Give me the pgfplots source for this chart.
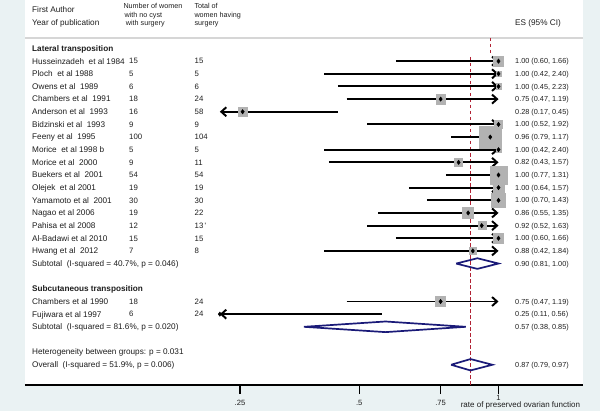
\documentclass[border=0pt]{standalone}
\usepackage{pgfplots}
\pgfplotsset{compat=1.18}
\usepackage{pgfplotstable}
\usepackage{fontspec}
\setmainfont{Liberation Sans}
\usetikzlibrary{arrows.meta}
\definecolor{bgblue}{RGB}{234,242,243}
\definecolor{boxgray}{RGB}{178,178,178}
\definecolor{navy}{RGB}{26,26,120}
\definecolor{refred}{RGB}{178,34,52}
\definecolor{txt}{RGB}{30,30,30}
\definecolor{hdrline}{RGB}{214,214,214}
\newcommand\fA{\fontsize{8.2}{9.8}\selectfont}
\newcommand\fN{\fontsize{7.8}{9.4}\selectfont}
\newcommand\fH{\fontsize{7.2}{8.6}\selectfont}
\newcommand\fE{\fontsize{7.3}{8.7}\selectfont}
\newcommand\fT{\fontsize{7.6}{9}\selectfont}

% boxes: ES, row (negative), half side of box (pt)
\pgfplotstableread{
es row hs
1.00 -1 5
1.00 -2 2.6
1.00 -3 2.8
0.75 -4 4.8
0.28 -5 4.5
1.00 -6 4
0.96 -7 11
1.00 -8 2.6
0.82 -9 4
1.00 -10 8.7
1.00 -11 5.5
1.00 -12 7
0.86 -13 5.5
0.92 -14 4
1.00 -15 5
0.88 -16 3.5
0.75 -20 5
}\boxtab

% point estimates
\pgfplotstableread{
es row
1.00 -1
1.00 -2
1.00 -3
0.75 -4
0.28 -5
1.00 -6
0.96 -7
1.00 -8
0.82 -9
1.00 -10
1.00 -11
1.00 -12
0.86 -13
0.92 -14
1.00 -15
0.88 -16
0.75 -20
0.25 -21
}\pointtab

\newcommand\SR[5]{%
 \node[anchor=base west,font=\fA] at (32,{48.5+12.65*#1+2.9}) {#2};
 \node[anchor=base west,font=\fN] at (129,{48.5+12.65*#1+2.8}) {#3};
 \node[anchor=base west,font=\fN] at (194.5,{48.5+12.65*#1+2.8}) {#4};
 \node[anchor=base west,font=\fE] at (515,{48.5+12.65*#1+2.6}) {#5};}

\begin{document}
\begin{tikzpicture}
\begin{scope}[x=1pt,y=-1pt]
\fill[bgblue] (0,0) rectangle (600,411);
\fill[white] (25,0) rectangle (583,385);
\draw[hdrline, line width=2.6pt] (25,38) -- (583,38);
\end{scope}
\begin{axis}[
  at={(25pt,-385pt)}, anchor=south west,
  scale only axis, width=558pt, height=385pt,
  xmode=log, xmin=0.09484, xmax=1.5226,
  ymin=-26.60, ymax=3.834,
  axis y line=none,
  axis x line*=bottom,
  x axis line style={black, line width=1.4pt},
  xtick={0.2764,0.5,0.75},
  xticklabels={.25,.5,.75},
  extra x ticks={1},
  extra x tick labels={1},
  extra x tick style={major tick length=9pt,
    tick style={black, line width=1.1pt},
    xticklabel style={yshift=5pt}},
  xminorticks=false,
  tick align=outside,
  major tick length=9pt,
  xtick style={black, line width=1.1pt},
  xticklabel style={font=\fT, text=txt, yshift=-2.5pt},
  clip=false,
  ci/.style={black, line width=1.95pt},
  ra/.style={ci, -{Straight Barb[length=5pt,width=9pt]}},
  la/.style={ci, {Straight Barb[length=5pt,width=9pt]}-},
  dia/.style={navy, line width=1.7pt, line join=miter},
]
% boxes
\addplot[scatter, only marks, mark=square*,
  scatter/use mapped color={draw=boxgray, fill=boxgray},
  visualization depends on={\thisrow{hs} \as \boxhs},
  scatter/@pre marker code/.append style={/tikz/mark size=\boxhs},
  point meta=\thisrow{hs}] table[x=es, y=row] {\boxtab};
% overall effect line
\addplot[refred, line width=1.1pt, dash pattern=on 3.5pt off 2.5pt] coordinates {(0.87,-0.672) (0.87,-26.60)};
\addplot[refred, line width=1.1pt, dash pattern=on 3.5pt off 2.5pt] coordinates {(0.963,0.83) (0.963,-0.356)};
% confidence intervals (clipped at 0.25 and 1)
\addplot[ra] coordinates {(0.60,-1) (1,-1)};
\addplot[ra] coordinates {(0.42,-2) (1,-2)};
\addplot[ra] coordinates {(0.45,-3) (1,-3)};
\addplot[ra] coordinates {(0.47,-4) (1,-4)};
\addplot[la] coordinates {(0.25,-5) (0.45,-5)};
\addplot[ra] coordinates {(0.52,-6) (1,-6)};
\addplot[ra] coordinates {(0.79,-7) (1,-7)};
\addplot[ra] coordinates {(0.42,-8) (1,-8)};
\addplot[ra] coordinates {(0.43,-9) (1,-9)};
\addplot[ra] coordinates {(0.77,-10) (1,-10)};
\addplot[ra] coordinates {(0.64,-11) (1,-11)};
\addplot[ra] coordinates {(0.70,-12) (1,-12)};
\addplot[ra] coordinates {(0.55,-13) (1,-13)};
\addplot[ra] coordinates {(0.52,-14) (1,-14)};
\addplot[ra] coordinates {(0.60,-15) (1,-15)};
\addplot[ra] coordinates {(0.42,-16) (1,-16)};
\addplot[ra] coordinates {(0.47,-20) (1,-20)};
\addplot[la] coordinates {(0.25,-21) (0.56,-21)};
% point estimates
\addplot[only marks, mark=diamond*, mark size=2.2pt, black] table[x=es, y=row] {\pointtab};
% pooled diamonds
\addplot[dia] coordinates {(0.81,-17) (0.90,-16.58) (1.00,-17) (0.90,-17.42) (0.81,-17)};
\addplot[dia] coordinates {(0.38,-22) (0.57,-21.58) (0.85,-22) (0.57,-22.42) (0.38,-22)};
\addplot[dia] coordinates {(0.79,-25) (0.87,-24.55) (0.97,-25) (0.87,-25.45) (0.79,-25)};
\end{axis}
\begin{scope}[x=1pt,y=-1pt, every node/.style={inner sep=0pt, text=txt}]
\node[anchor=base west,font=\fA] at (32,13) {First Author};
\node[anchor=base west,font=\fA] at (32,25.6) {Year of publication};
\node[anchor=base west,font=\fH] at (123.3,8.3) {Number of women};
\node[anchor=base west,font=\fH] at (124.3,17.2) {with no cyst};
\node[anchor=base west,font=\fH] at (125.7,25.8) {with surgery};
\node[anchor=base west,font=\fH] at (194.3,8.3) {Total of};
\node[anchor=base west,font=\fH] at (194.3,17.2) {women having};
\node[anchor=base west,font=\fH] at (194.3,25.8) {surgery};
\node[anchor=base west,font=\fA] at (515,26) {ES (95\% CI)};
\node[anchor=base west,font=\fA\bfseries] at (32,{48.5+2.9}) {Lateral transposition};
\SR{1}{Husseinzadeh\ \ et al 1984}{15}{15}{1.00 (0.60, 1.66)}
\SR{2}{Ploch\ \ et al 1988}{5}{5}{1.00 (0.42, 2.40)}
\SR{3}{Owens et al\ \ 1989}{6}{6}{1.00 (0.45, 2.23)}
\SR{4}{Chambers et al\ \ 1991}{18}{24}{0.75 (0.47, 1.19)}
\SR{5}{Anderson et al\ \ 1993}{16}{58}{0.28 (0.17, 0.45)}
\SR{6}{Bidzinski et al\ \ 1993}{9}{9}{1.00 (0.52, 1.92)}
\SR{7}{Feeny et al\ \ 1995}{100}{104}{0.96 (0.79, 1.17)}
\SR{8}{Morice\ \ et al 1998 b}{5}{5}{1.00 (0.42, 2.40)}
\SR{9}{Morice et al\ \ 2000}{9}{11}{0.82 (0.43, 1.57)}
\SR{10}{Buekers et al\ \ 2001}{54}{54}{1.00 (0.77, 1.31)}
\SR{11}{Olejek\ \ et al 2001}{19}{19}{1.00 (0.64, 1.57)}
\SR{12}{Yamamoto et al\ \ 2001}{30}{30}{1.00 (0.70, 1.43)}
\SR{13}{Nagao et al 2006}{19}{22}{0.86 (0.55, 1.35)}
\SR{14}{Pahisa et al 2008}{12}{13\,\textquotesingle}{0.92 (0.52, 1.63)}
\SR{15}{Al-Badawi et al 2010}{15}{15}{1.00 (0.60, 1.66)}
\SR{16}{Hwang et al\ \ 2012}{7}{8}{0.88 (0.42, 1.84)}
\SR{17}{Subtotal\ \ (I-squared = 40.7\%, p = 0.046)}{}{}{0.90 (0.81, 1.00)}
\node[anchor=base west,font=\fA\bfseries] at (32,{48.5+12.65*19+2.9}) {Subcutaneous transposition};
\SR{20}{Chambers et al 1990}{18}{24}{0.75 (0.47, 1.19)}
\SR{21}{Fujiwara et al 1997}{6}{24}{0.25 (0.11, 0.56)}
\SR{22}{Subtotal\ \ (I-squared = 81.6\%, p = 0.020)}{}{}{0.57 (0.38, 0.85)}
\node[anchor=base west,font=\fA] at (32,{48.5+12.65*24+2.9}) {Heterogeneity between groups: p = 0.031};
\SR{25}{Overall\ \ (I-squared = 51.9\%, p = 0.006)}{}{}{0.87 (0.79, 0.97)}
\node[anchor=base,font=\fontsize{8}{9.6}\selectfont] at (520.4,407.8) {rate of preserved ovarian function};
\end{scope}
\pgfresetboundingbox
\path[use as bounding box] (0pt,0pt) rectangle (600pt,-411pt);
\end{tikzpicture}
\end{document}
